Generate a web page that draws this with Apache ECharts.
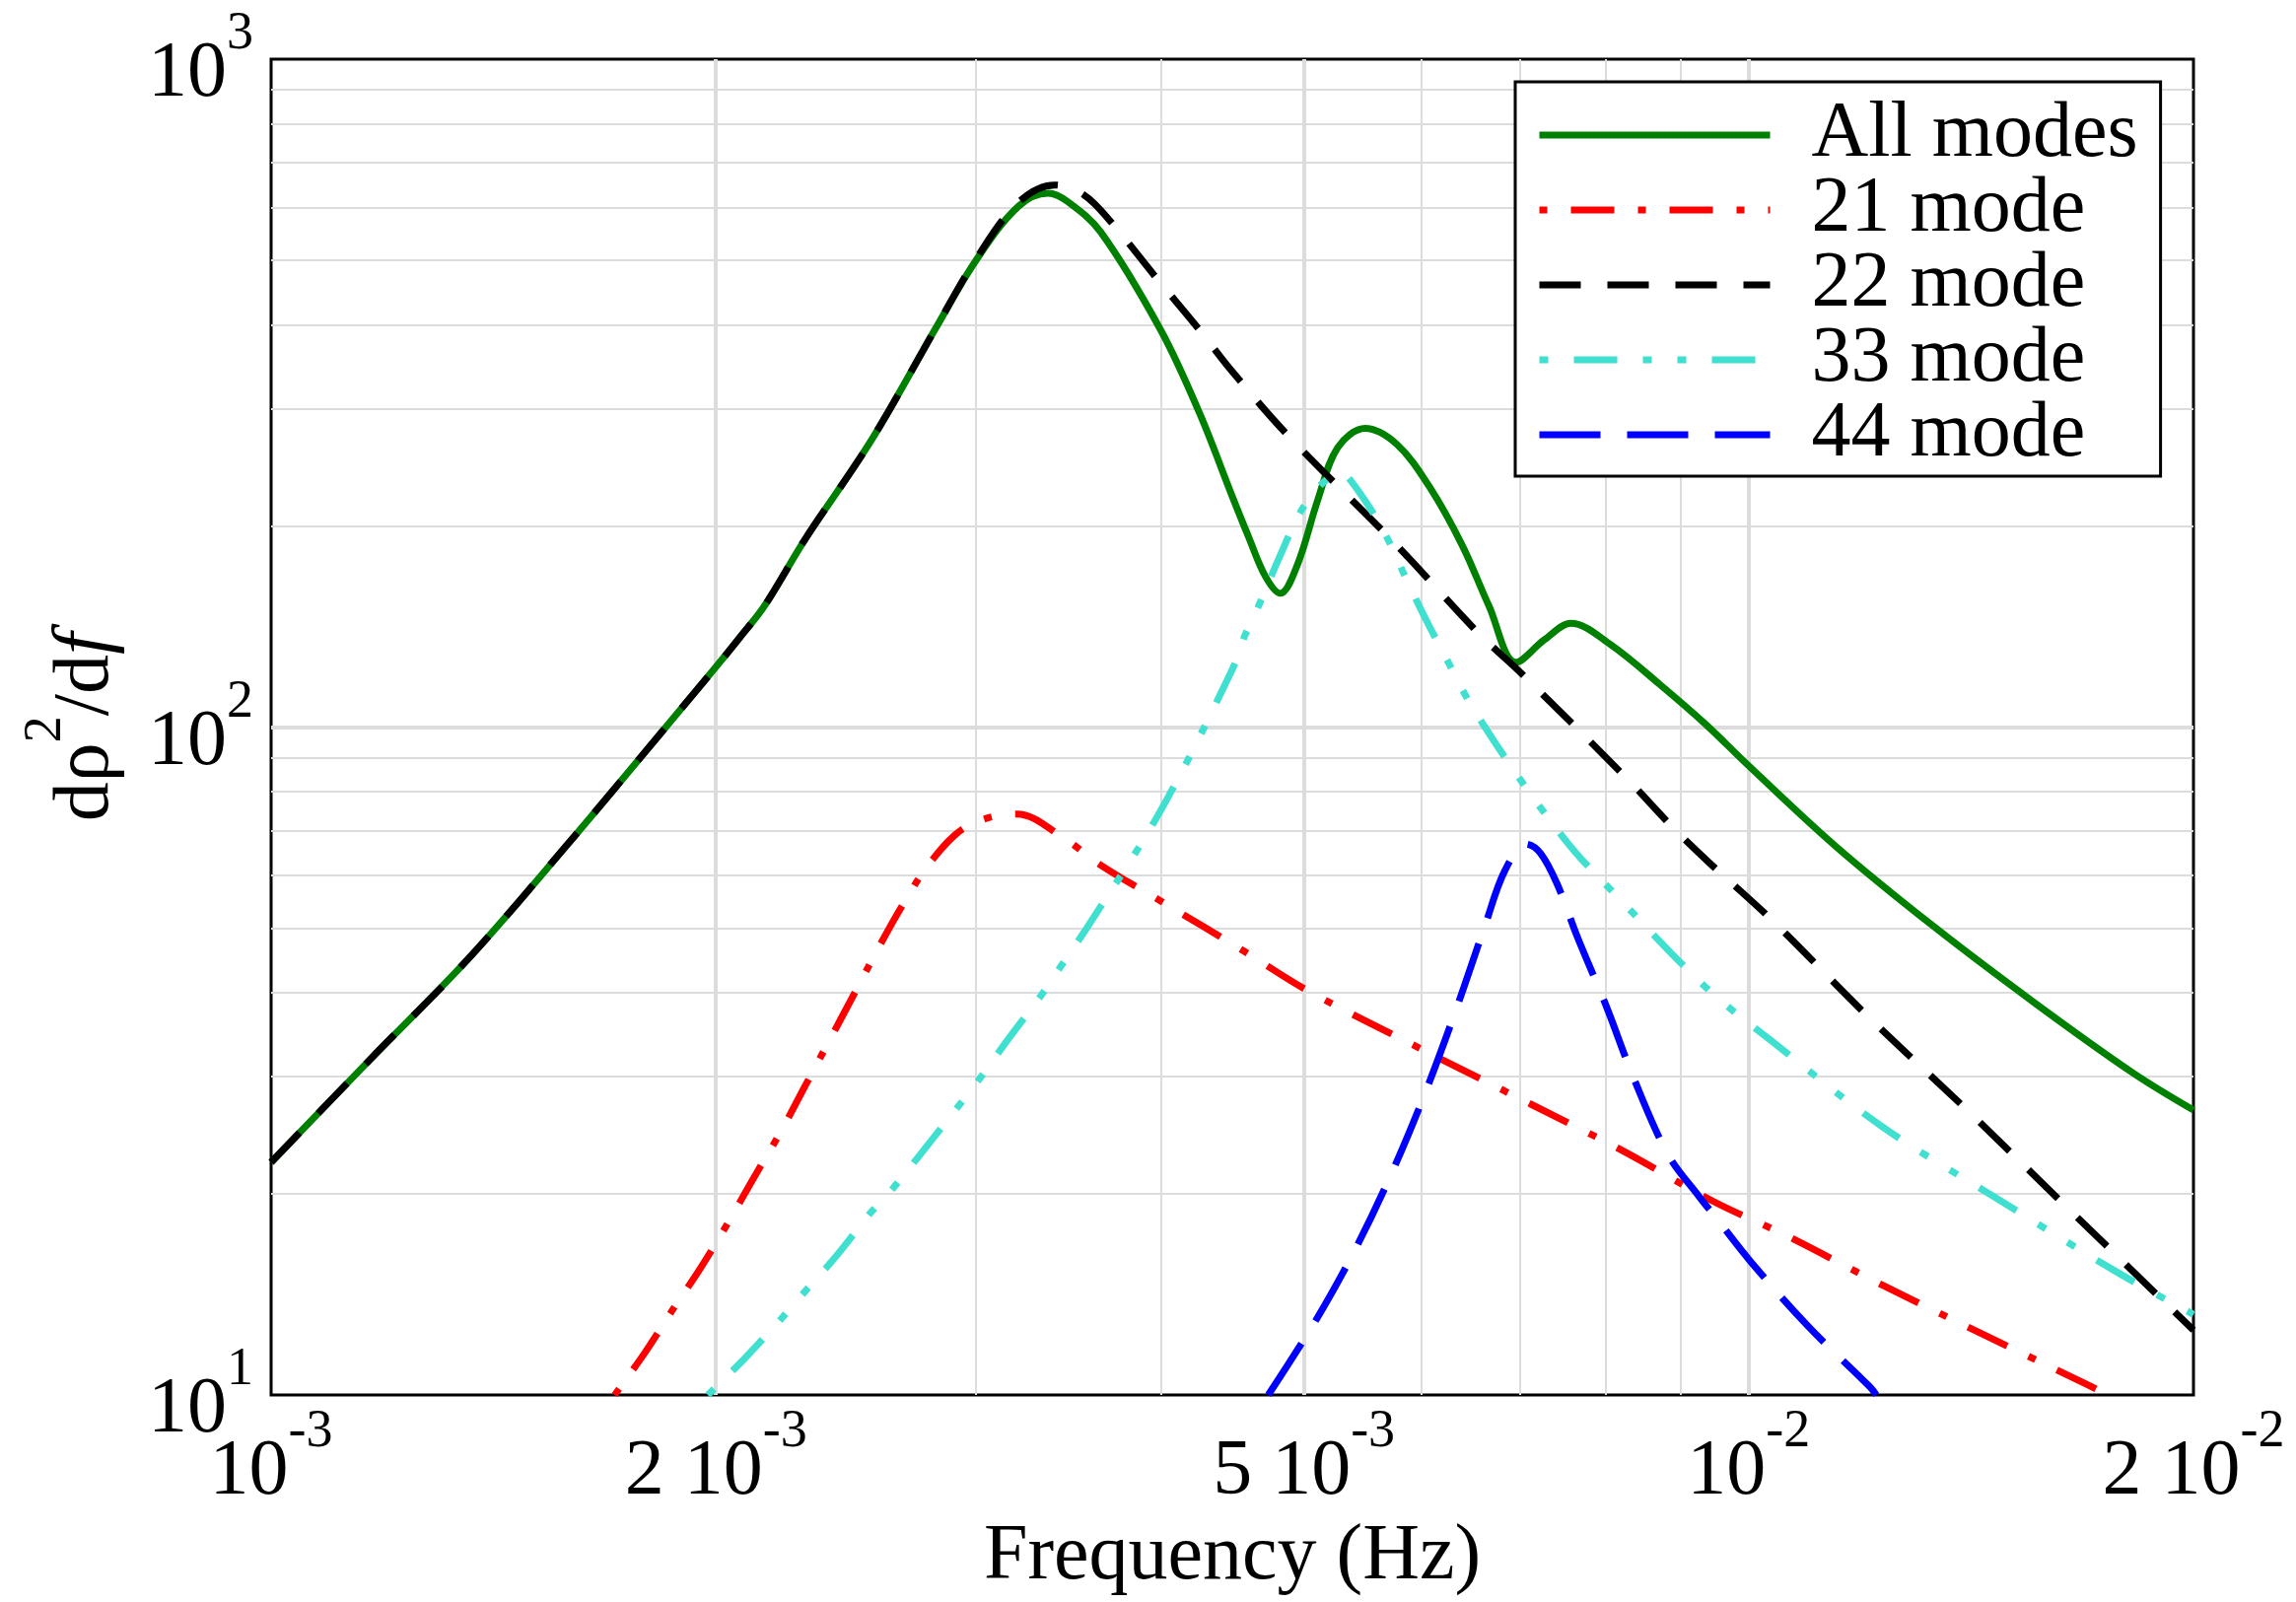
<!DOCTYPE html>
<html><head><meta charset="utf-8">
<script src="https://cdn.jsdelivr.net/npm/echarts@6/dist/echarts.min.js"></script>
<style>html,body{margin:0;padding:0;background:#fff}#c{width:2329px;height:1625px}</style>
</head><body><div id="c"></div>
<script>
const FONT = 'Liberation Serif';

const seriesNames = ['All modes', '21 mode', '22 mode', '33 mode', '44 mode'];

const freqAll = [0.001, 0.001167, 0.00136, 0.001586, 0.00185, 0.002, 0.002075, 0.002158, 0.002298, 0.002546, 0.00282, 0.003, 0.003204, 0.003357, 0.00346, 0.003643, 0.004, 0.00425, 0.00447, 0.00459, 0.00471, 0.00482, 0.00495, 0.00511, 0.00527, 0.0055, 0.00578, 0.00608, 0.0064, 0.00667, 0.00696, 0.00727, 0.00758, 0.00806, 0.0087, 0.00935, 0.01, 0.01147, 0.01337, 0.0156, 0.01818, 0.02];
const valAll  = [22.3, 31.8, 45.0, 66.6, 100, 123, 136, 152, 191, 268, 397, 500, 602, 630, 612, 551, 393, 295, 222, 192, 168, 158.6, 175, 219, 262, 280, 265, 229, 187, 152, 125, 135, 143, 133, 116, 101, 87.5, 66.1, 50.1, 38.7, 30.4, 26.7];

const freq21 = [0.001708, 0.00179, 0.001869, 0.001953, 0.002038, 0.002123, 0.002211, 0.002298, 0.002388, 0.00248, 0.002575, 0.002679, 0.002799, 0.002961, 0.003197, 0.003436, 0.003652, 0.004, 0.00456, 0.00503, 0.00598, 0.00711, 0.00822, 0.00946, 0.01062, 0.01232, 0.01422, 0.01689, 0.0175];
const val21  = [10, 11.56, 13.4, 15.5, 18.1, 21.2, 24.7, 29.0, 34.0, 39.8, 46.6, 54.4, 63.1, 71.1, 74.1, 68.3, 61.9, 54.9, 46.1, 40.3, 33.1, 27.3, 23.2, 19.5, 17.3, 14.6, 12.5, 10.4, 10.0];

const freq22 = [0.001, 0.001167, 0.00136, 0.001586, 0.00185, 0.002, 0.002075, 0.002158, 0.002298, 0.002546, 0.00282, 0.003, 0.003204, 0.00339, 0.00355, 0.003708, 0.003965, 0.00425, 0.00447, 0.00488, 0.00578, 0.00658, 0.00698, 0.00826, 0.00891, 0.0094, 0.01036, 0.01207, 0.01408, 0.01642, 0.01964, 0.02];
const val22  = [22.3, 31.8, 45.0, 66.6, 100, 123, 136, 152, 191, 268, 397, 502, 610, 648, 626, 568, 473, 393, 341, 273, 187, 137.4, 121.7, 84, 70.3, 62.7, 51.5, 36.7, 26.6, 19.1, 13.0, 12.5];

const freq33 = [0.001975, 0.002094, 0.002214, 0.002292, 0.002416, 0.002543, 0.002636, 0.002775, 0.00292, 0.003015, 0.00316, 0.003319, 0.003423, 0.003579, 0.004, 0.00447, 0.00456, 0.00466, 0.00481, 0.00498, 0.00515, 0.0053, 0.00537, 0.00559, 0.00571, 0.00584, 0.00605, 0.00628, 0.00644, 0.00672, 0.00703, 0.00726, 0.00763, 0.00807, 0.00935, 0.01036, 0.01232, 0.01466, 0.01773, 0.02];
const val33  = [10, 11.37, 13.0, 14.2, 16.2, 18.7, 20.4, 23.5, 27.1, 29.7, 34.3, 39.6, 43.8, 50.7, 75, 121.7, 137, 152, 179, 211, 232, 240, 235, 206.6, 189.5, 170, 144.6, 123.5, 111, 95.5, 82.5, 74.8, 65.0, 57, 40.8, 33.9, 25.2, 19.8, 15.3, 13.2];

const freq44 = [0.00473, 0.00509, 0.00543, 0.00576, 0.00605, 0.00635, 0.00663, 0.00684, 0.00707, 0.00723, 0.00742, 0.00766, 0.00801, 0.00836, 0.00882, 0.00926, 0.00949, 0.01004, 0.01096, 0.01207, 0.0122];
const val44  = [10, 12.9, 16.7, 22.0, 28.6, 38.2, 50.4, 61, 66.8, 64.7, 58.2, 48.4, 38.2, 29.8, 22.9, 19.8, 18.5, 15.8, 12.7, 10.3, 10];

const xTickValues = [0.001, 0.002, 0.005, 0.01, 0.02];
const xTickMantissas = ['', '2 ', '5 ', '', '2 '];
const xTickExponents = ['-3', '-3', '-3', '-2', '-2'];
const yTickValues = [10, 100, 1000];
const yTickExponents = ['1', '2', '3'];
const xMajorGrid = [0.002, 0.005, 0.01];
const xMinorGrid = [0.003, 0.004, 0.006, 0.007, 0.008, 0.009];
const yMajorGrid = [100];
const yMinorGrid = [20, 30, 40, 50, 60, 70, 80, 90, 200, 300, 400, 500, 600, 700, 800, 900];

function zip(f, v) { return f.map((x, i) => [x, v[i]]); }
function findIdx(arr, v) {
  for (let i = 0; i < arr.length; i++) {
    if (Math.abs(Math.log10(v) - Math.log10(arr[i])) < 1e-6) return i;
  }
  return -1;
}
const rich = {
  b: { fontFamily: FONT, fontSize: 80, color: '#000', lineHeight: 136, verticalAlign: 'middle' },
  s: { fontFamily: FONT, fontSize: 54, color: '#000', lineHeight: 54, verticalAlign: 'top' }
};

const chart = echarts.init(document.getElementById('c'), null, { renderer: 'canvas' });

const styles = [
  { color: '#008000', type: 'solid', dashOffset: 0 },
  { color: '#ff0000', type: [44, 24, 8, 24], dashOffset: 68 },
  { color: '#000000', type: [42, 27], dashOffset: 0 },
  { color: '#40e0d0', type: [44, 26, 9, 26, 9, 26], dashOffset: 105 },
  { color: '#0000ff', type: [62, 27], dashOffset: 0 }
];
const datas = [zip(freqAll, valAll), zip(freq21, val21), zip(freq22, val22), zip(freq33, val33), zip(freq44, val44)];

const series = seriesNames.map((n, i) => ({
  name: n,
  type: 'line',
  data: datas[i],
  symbol: 'none',
  smooth: 0.35,
  color: styles[i].color,
  lineStyle: { color: styles[i].color, width: 7, type: styles[i].type, dashOffset: styles[i].dashOffset, cap: 'butt' },
  z: 2 + i,
  animation: false
}));

chart.setOption({
  animation: false,
  backgroundColor: '#fff',
  grid: { left: 275, top: 60, width: 1950, height: 1363, show: true, borderColor: '#000', borderWidth: 3, backgroundColor: 'transparent' },
  legend: {
    data: seriesNames,
    orient: 'vertical',
    left: 1537, top: 83,
    padding: [14, 23, 2, 21],
    itemWidth: 234, itemHeight: 20, itemGap: -4,
    backgroundColor: '#fff', borderColor: '#000', borderWidth: 3,
    lineStyle: { width: 7 },
    itemStyle: { color: 'rgba(0,0,0,0)', borderColor: 'rgba(0,0,0,0)', borderWidth: 0 },
    textStyle: { fontFamily: FONT, fontSize: 80, color: '#000', padding: [0, 0, 0, 37] },
    z: 20
  },
  xAxis: [
    {
      type: 'log', min: 0.001, max: 0.02, position: 'bottom',
      axisLine: { show: false },
      axisTick: { show: false, customValues: xMajorGrid },
      axisLabel: {
        customValues: xTickValues, margin: 11, rich: rich,
        formatter: function (v) { const i = findIdx(xTickValues, v); if (i < 0) return ''; return '{b|' + xTickMantissas[i] + '10}{s|' + xTickExponents[i] + '}'; }
      },
      splitLine: { show: true, lineStyle: { color: '#dcdcdc', width: 4 } },
      name: 'Frequency (Hz)', nameLocation: 'middle', nameGap: 125,
      nameTextStyle: { fontFamily: FONT, fontSize: 80, color: '#000', lineHeight: 80 }
    },
    {
      type: 'log', min: 0.001, max: 0.02, position: 'top',
      axisLine: { show: false },
      axisTick: { show: false, customValues: xMinorGrid },
      axisLabel: { show: false },
      splitLine: { show: true, lineStyle: { color: '#dcdcdc', width: 2 } }
    }
  ],
  yAxis: [
    {
      type: 'log', min: 10, max: 1000, position: 'left',
      axisLine: { show: false },
      axisTick: { show: false, customValues: yMajorGrid },
      axisLabel: {
        customValues: yTickValues, margin: 18, rich: rich, padding: [32, 0, 0, 0],
        formatter: function (v) { const i = findIdx(yTickValues, v); if (i < 0) return ''; return '{b|10}{s|' + yTickExponents[i] + '}'; }
      },
      splitLine: { show: true, lineStyle: { color: '#dcdcdc', width: 4 } },
      name: '{a|dρ}{s|2}{a|/d}{i|f}', nameLocation: 'middle', nameGap: 119,
      nameTextStyle: {
        rich: {
          a: { fontFamily: FONT, fontSize: 80, color: '#000', lineHeight: 136, verticalAlign: 'middle' },
          i: { fontFamily: FONT, fontSize: 80, fontStyle: 'italic', color: '#000', lineHeight: 136, verticalAlign: 'middle' },
          s: { fontFamily: FONT, fontSize: 54, color: '#000', lineHeight: 54, verticalAlign: 'top' }
        }
      }
    },
    {
      type: 'log', min: 10, max: 1000, position: 'right',
      axisLine: { show: false },
      axisTick: { show: false, customValues: yMinorGrid },
      axisLabel: { show: false },
      splitLine: { show: true, lineStyle: { color: '#dcdcdc', width: 2 } }
    }
  ],
  series: series
});
</script>
</body></html>
